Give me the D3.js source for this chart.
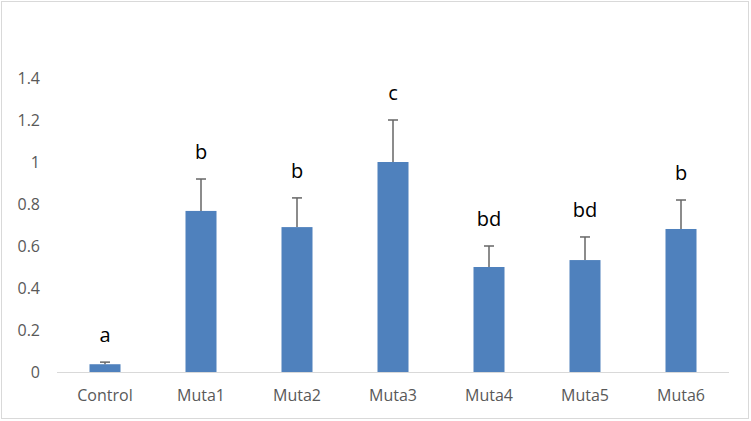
<!DOCTYPE html>
<html>
<head>
    <meta charset="utf-8" />
    <script src="https://d3js.org/d3.v7.min.js"></script>
    <style>
        body { margin: 0; background: #fff; }
        text { font-family: "Open Sans", "Noto Sans", sans-serif; }
    </style>
</head>
<body>
    <script type="text/javascript">
        var groups = ["Control", "Muta1", "Muta2", "Muta3", "Muta4", "Muta5", "Muta6"];
        var means = [0.037, 0.767, 0.69, 1.0, 0.5, 0.533, 0.681];
        var errors = [0.01, 0.152, 0.139, 0.2, 0.1, 0.11, 0.138];
        var letters = ["a", "b", "b", "c", "bd", "bd", "b"];
        var yTicks = [0, 0.2, 0.4, 0.6, 0.8, 1, 1.2, 1.4];

        var w = 751,
            h = 421;

        var svg = d3.select("body")
                    .append("svg")
                    .attr("width", w)
                    .attr("height", h);

        // outer chart border
        svg.append("rect")
           .attr("x", 1.5).attr("y", 1.5)
           .attr("width", w - 4).attr("height", h - 4)
           .style("fill", "#fff")
           .style("stroke", "#d9d9d9");

        var x = d3.scaleBand()
                  .domain(groups)
                  .range([57, 729])
                  .paddingInner(0.677)
                  .paddingOuter(0.3385);

        var y = d3.scaleLinear()
                  .domain([0, 1.4])
                  .range([372, 78]);

        // y tick labels (no axis line)
        svg.selectAll(".ytick")
           .data(yTicks)
           .enter()
           .append("text")
           .attr("x", 40)
           .attr("y", function(d){ return y(d); })
           .attr("dy", "0.35em")
           .attr("text-anchor", "end")
           .style("font-size", "16px")
           .style("fill", "#595959")
           .text(function(d){ return d; });

        // bars
        svg.selectAll(".bar")
           .data(means)
           .enter()
           .append("rect")
           .attr("x", function(d, i){ return x(groups[i]); })
           .attr("y", function(d){ return y(d); })
           .attr("width", x.bandwidth())
           .attr("height", function(d){ return y(0) - y(d); })
           .style("fill", "#4f81bd");

        // x axis line
        svg.append("line")
           .attr("x1", 57).attr("x2", 729)
           .attr("y1", y(0) + 0.5).attr("y2", y(0) + 0.5)
           .style("stroke", "#d9d9d9")
           .style("stroke-width", 1);

        // error bars (plus only)
        var eb = svg.selectAll(".err")
                    .data(means)
                    .enter()
                    .append("g")
                    .attr("transform", function(d, i){
                        return "translate(" + (x(groups[i]) + x.bandwidth() / 2) + ",0)";
                    });

        eb.append("line")
          .attr("x1", 0).attr("x2", 0)
          .attr("y1", function(d){ return y(d); })
          .attr("y2", function(d, i){ return y(d + errors[i]); })
          .style("stroke", "#666")
          .style("stroke-width", 1.5);

        eb.append("line")
          .attr("x1", -5).attr("x2", 5)
          .attr("y1", function(d, i){ return y(d + errors[i]); })
          .attr("y2", function(d, i){ return y(d + errors[i]); })
          .style("stroke", "#666")
          .style("stroke-width", 1.5);

        // significance letters
        svg.selectAll(".letter")
           .data(letters)
           .enter()
           .append("text")
           .attr("x", function(d, i){ return x(groups[i]) + x.bandwidth() / 2; })
           .attr("y", function(d, i){ return y(means[i] + errors[i]) - 20; })
           .attr("text-anchor", "middle")
           .style("font-size", "20px")
           .style("fill", "#000")
           .text(function(d){ return d; });

        // category labels
        svg.selectAll(".xlabel")
           .data(groups)
           .enter()
           .append("text")
           .attr("x", function(d){ return x(d) + x.bandwidth() / 2; })
           .attr("y", 401)
           .attr("text-anchor", "middle")
           .style("font-size", "16px")
           .style("fill", "#595959")
           .text(function(d){ return d; });
    </script>
</body>
</html>
